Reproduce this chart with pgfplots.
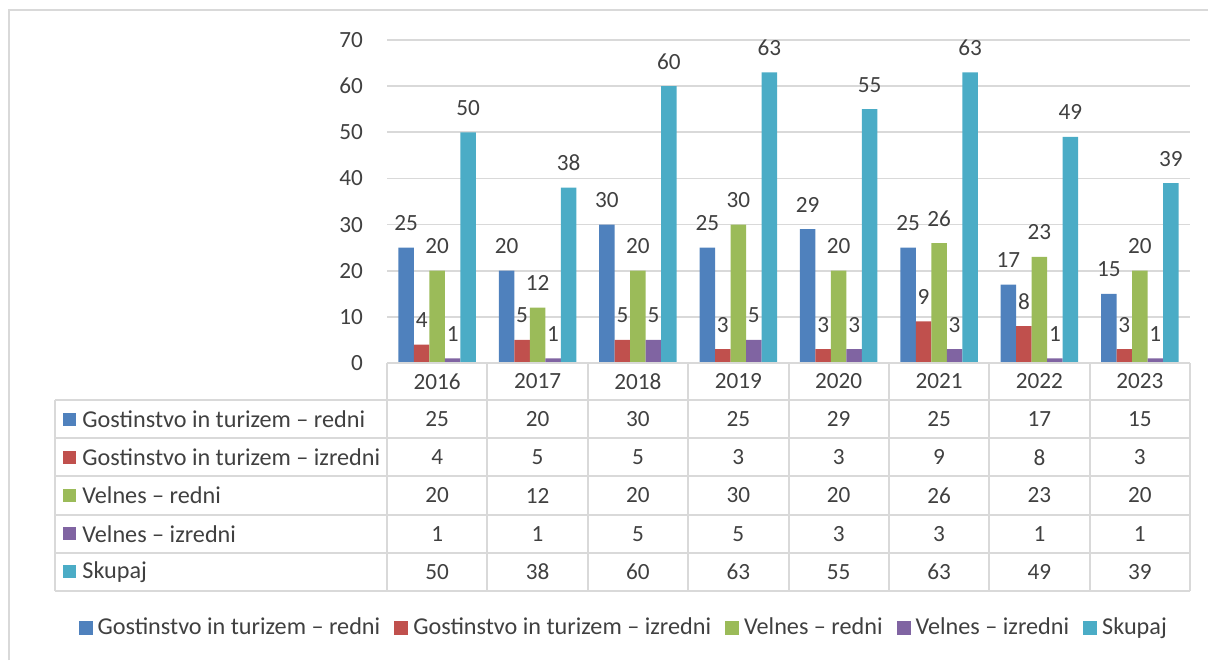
\documentclass[border=0pt]{standalone}
\usepackage{pgfplots}
\pgfplotsset{compat=1.18}
\usepackage{pgfplotstable}
\usepackage{fontspec}
\setmainfont{Carlito}
\definecolor{cA}{HTML}{4F81BD}
\definecolor{cB}{HTML}{C0504D}
\definecolor{cC}{HTML}{9BBB59}
\definecolor{cD}{HTML}{8064A2}
\definecolor{cE}{HTML}{4BACC6}
\definecolor{txt}{HTML}{404040}
\definecolor{gridc}{HTML}{D9D9D9}
\pgfplotstableread{
x year a b c d e
0 2016 25 4 20 1 50
1 2017 20 5 12 1 38
2 2018 30 5 20 5 60
3 2019 25 3 30 5 63
4 2020 29 3 20 3 55
5 2021 25 9 26 3 63
6 2022 17 8 23 1 49
7 2023 15 3 20 1 39
}\data
\newcommand{\fs}{\fontsize{11.6}{13}\selectfont}
\newcommand{\ft}{\fontsize{12.1}{14}\selectfont}
\begin{document}
\begin{tikzpicture}[x=0.5pt,y=0.5pt,font=\fs]
\useasboundingbox (0,0) rectangle (1208,660);
\draw[gridc,line width=1pt] (8.5,0) -- (8.5,649.5) -- (1208,649.5);
\begin{axis}[
  at={(193.5pt,148.5pt)}, anchor=south west,
  scale only axis, width=401.5pt, height=161.5pt,
  xmin=-0.5, xmax=7.5, ymin=0, ymax=70,
  ytick={0,10,...,70}, xtick=\empty,
  major tick length=0pt,
  axis line style={draw=none},
  ymajorgrids, grid style={gridc, line width=0.8pt},
  /pgf/number format/assume math mode=true,
  yticklabel style={font=\fs, text=txt, xshift=-8.5pt},
  ybar=0pt, bar width=7.75pt,
  nodes near coords,
  nodes near coords style={font=\fs, text=txt, anchor=base, yshift=8.5pt},
  legend columns=5,
  legend style={at={(0.296,-0.820)}, anchor=center, draw=none, font=\ft, text=txt,
    inner xsep=0pt,
    /tikz/every even column/.append style={column sep=5pt},
    /tikz/every odd column/.append style={column sep=0.5pt}},
  legend image code/.code={\fill[#1] (0pt,-3.5pt) rectangle (7pt,3.5pt);},
  clip=false,
]
\addplot[fill=cA, draw=none] table[x=x,y=a]{\data};
\addlegendentry{Gostinstvo in turizem – redni}
\addplot[fill=cB, draw=none] table[x=x,y=b]{\data};
\addlegendentry{Gostinstvo in turizem – izredni}
\addplot[fill=cC, draw=none] table[x=x,y=c]{\data};
\addlegendentry{Velnes – redni}
\addplot[fill=cD, draw=none] table[x=x,y=d]{\data};
\addlegendentry{Velnes – izredni}
\addplot[fill=cE, draw=none] table[x=x,y=e]{\data};
\addlegendentry{Skupaj}
\end{axis}
% data table
\begin{scope}[gridc, line width=1pt]
\draw (387,297) -- (1190,297);
\foreach \yy in {400,438.2,476.4,514.6,552.8,591} \draw (55,660-\yy) -- (1190,660-\yy);
\foreach \i in {0,...,8} \draw ({387+\i*100.375},297) -- ({387+\i*100.375},69);
\draw (55,260) -- (55,69);
\end{scope}
\foreach \i in {0,...,7} {
  \pgfplotstablegetelem{\i}{year}\of\data
  \node[text=txt] at ({387+(\i+0.5)*100.375},{660-381.5}) {\pgfplotsretval};
  \pgfplotstablegetelem{\i}{a}\of\data
  \node[text=txt] at ({387+(\i+0.5)*100.375},{660-419.1}) {\pgfplotsretval};
  \pgfplotstablegetelem{\i}{b}\of\data
  \node[text=txt] at ({387+(\i+0.5)*100.375},{660-457.3}) {\pgfplotsretval};
  \pgfplotstablegetelem{\i}{c}\of\data
  \node[text=txt] at ({387+(\i+0.5)*100.375},{660-495.5}) {\pgfplotsretval};
  \pgfplotstablegetelem{\i}{d}\of\data
  \node[text=txt] at ({387+(\i+0.5)*100.375},{660-533.7}) {\pgfplotsretval};
  \pgfplotstablegetelem{\i}{e}\of\data
  \node[text=txt] at ({387+(\i+0.5)*100.375},{660-571.9}) {\pgfplotsretval};
}
\foreach \lab/\col [count=\k from 0] in {Gostinstvo in turizem – redni/cA, Gostinstvo in turizem – izredni/cB, Velnes – redni/cC, Velnes – izredni/cD, Skupaj/cE} {
  \fill[\col] (63,{660-419.1-38.2*\k-6.5}) rectangle (76,{660-419.1-38.2*\k+6.5});
  \node[text=txt, anchor=west, inner sep=0pt, font=\ft] at (82,{660-419.1-38.2*\k}) {\lab};
}
\end{tikzpicture}
\end{document}
